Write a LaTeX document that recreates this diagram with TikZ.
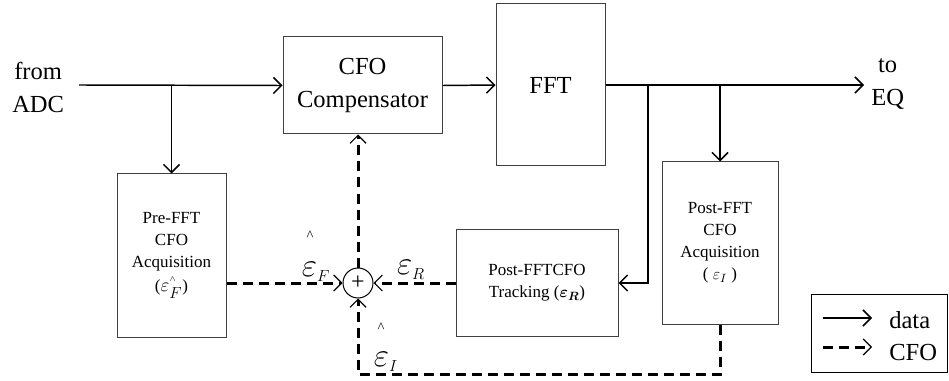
\documentclass[tikz,border=0pt]{standalone}
\usepackage{fontspec}
\setmainfont{Liberation Serif}
\usepackage{bm}
\usetikzlibrary{arrows.meta}

\tikzset{
  blk/.style={draw=black!75,line width=0.75pt,align=center,inner sep=1pt},
  data/.style={line width=1.1pt,-{Straight Barb[length=6pt,width=12pt]}},
  cfo/.style={line width=2.25pt,dash pattern=on 7.5pt off 4.5pt,-{Straight Barb[length=6pt,width=12pt,line width=0.9pt]}},
  bigtxt/.style={font=\fontsize{18.4}{24.75}\selectfont},
  smalltxt/.style={font=\fontsize{12.75}{16.5}\selectfont},
  epstxt/.style={font=\fontsize{24}{24}\selectfont,inner sep=0pt},
  hattxt/.style={font=\fontsize{11}{11}\selectfont,inner sep=0pt}
}

\begin{document}
\begin{tikzpicture}[x=0.75pt,y=-0.75pt,line join=miter]
  \useasboundingbox (0,0) rectangle (949,381);
  \node[blk,bigtxt,minimum width=119.25pt,minimum height=72.75pt] (comp) at (362.5,85.5) {CFO\\Compensator};
  \node[blk,bigtxt,minimum width=81.75pt,minimum height=121.5pt] (fft) at (550.5,85) {FFT};
  \node[blk,smalltxt,minimum width=81.75pt,minimum height=122.25pt] (preacq) at (171.5,255.5)
    {Pre-FFT\\CFO\\Acquisition\\[1pt](\mbox{\fontsize{15}{15}\selectfont$\varepsilon$}$^{\raisebox{2.5pt}{$\scriptscriptstyle\wedge$}}_{\textstyle F}$)};
  \node[blk,smalltxt,minimum width=121.5pt,minimum height=80.25pt] (track) at (537,283)
    {Post-FFTCFO\\Tracking ($\bm{\varepsilon}_{\bm{R}}$)};
  \node[blk,smalltxt,minimum width=87pt,minimum height=121.5pt] (postacq) at (720,243)
    {Post-FFT\\CFO\\Acquisition\\( $\varepsilon_{I}$ )};
  \node[draw,circle,minimum size=22.5pt,inner sep=0pt,line width=0.75pt,font=\fontsize{18}{18}\selectfont] (sum) at (358,283) {+};
  \coordinate (adc) at (79,85);
  \coordinate (eq) at (864,85);
  \coordinate (tap) at (648,85);
  \coordinate (bend) at (358,374);
  \node[bigtxt,align=center,inner sep=0pt,anchor=west] (adctxt) at (12,87) {from\\ADC};
  \node[bigtxt,align=center,inner sep=0pt,anchor=west] (eqtxt) at (871,84.5) {to\\EQ};
  \draw[data] (adc) -- (comp.west);
  \draw[data] (comp.east) -- (fft.west);
  \draw[data] (fft.east) -- (eq);
  \draw[data] (preacq.north |- adc) -- (preacq.north);
  \draw[data] (postacq.north |- eq) -- (postacq.north);
  \draw[data] (tap) |- (track.east);
  \draw[cfo] (preacq.east |- sum) -- (sum.west);
  \draw[cfo] (track.west) -- (sum.east);
  \draw[cfo] (sum.north) -- (sum.north |- comp.south);
  \draw[cfo] (postacq.south) |- (bend) -- (sum.south);
  \node[epstxt] (epsF) at (316,272) {$\varepsilon_{\scriptscriptstyle F}$};
  \node[hattxt] (hatF) at (310,236) {\textasciicircum};
  \node[epstxt] (epsR) at (411,270) {$\varepsilon_{\scriptscriptstyle R}$};
  \node[epstxt] (epsI) at (386,362) {$\varepsilon_{\scriptscriptstyle I}$};
  \node[hattxt] (hatI) at (381,328) {\textasciicircum};
  \node[draw,line width=0.75pt,minimum width=102pt,minimum height=58.5pt] (legend) at (879,333) {};
  \node[bigtxt,anchor=base west,inner sep=0pt] (datatxt) at (889,328) {data};
  \node[bigtxt,anchor=base west,inner sep=0pt] (cfotxt) at (889,360) {CFO};
  \coordinate (ldata) at (823,318);
  \coordinate (ldataend) at (872,318);
  \coordinate (lcfo) at (823,347);
  \coordinate (lcfoend) at (872,347);
  \draw[data] (ldata) -- (ldataend);
  \draw[cfo] (lcfo) -- (lcfoend);
\end{tikzpicture}
\end{document}
